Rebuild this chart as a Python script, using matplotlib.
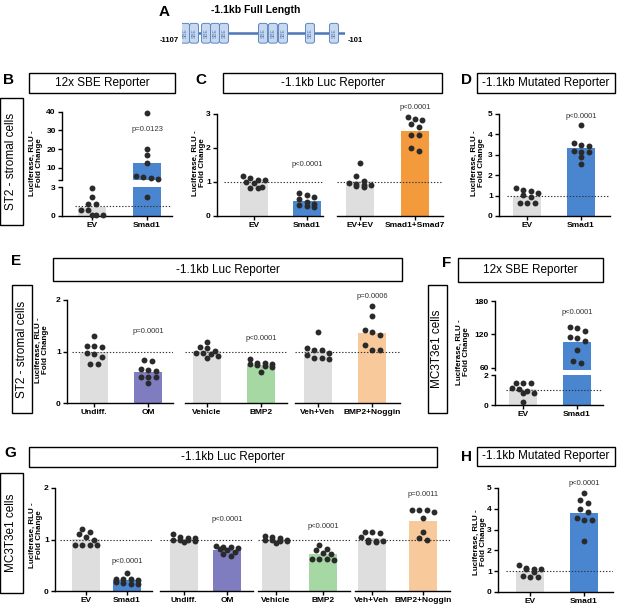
import numpy as np
import matplotlib
matplotlib.use('Agg')
import matplotlib.pyplot as plt
from matplotlib.patches import Rectangle, FancyBboxPatch

plt.rcParams['font.family'] = ['Liberation Sans', 'DejaVu Sans']

# ---------------- data ----------------
promoter_start, promoter_end = -1107, -101
sbe_sites = [-1088, -1033, -959, -903, -848, -607, -546, -484, -317, -169]

b_ev = [2.9, 2.0, 1.22, 1.22, 0.63, 0.63, 0.1, 0.1, 0.1]
b_smad1 = [39.5, 20, 17, 12.7, 5.6, 4.4, 4.9, 4.2, 2.0]

c_ev = [1.12, 1.06, 1.19, 1.07, 1.0, 0.98, 0.82, 0.83, 0.84]
c_smad1 = [0.42, 0.27, 0.62, 0.67, 0.55, 0.5, 0.3, 0.32, 0.35]
c_evev = [1.55, 1.18, 1.02, 0.95, 0.92, 0.97, 0.88, 0.85, 0.9]
c_smad17 = [2.84, 2.92, 2.82, 2.7, 2.62, 2.37, 2.37, 1.92, 2.0]

d_ev = [1.38, 1.26, 1.13, 1.21, 1.05, 0.93, 0.66, 0.64, 0.66]
d_smad1 = [4.44, 3.48, 3.59, 3.43, 3.18, 3.15, 3.15, 2.87, 2.57]

e_undiff = [1.08, 1.30, 1.10, 1.11, 0.95, 0.97, 0.90, 0.75, 0.75]
e_om = [0.81, 0.83, 0.65, 0.66, 0.63, 0.50, 0.39, 0.50, 0.50]
e_vehicle = [1.19, 1.08, 1.06, 0.92, 0.97, 0.97, 0.95, 1.01, 0.87]
e_bmp2 = [0.86, 0.77, 0.77, 0.75, 0.76, 0.72, 0.61, 0.70, 0.73]
e_vehveh = [1.37, 0.97, 1.03, 1.07, 1.03, 0.86, 0.87, 0.87, 0.94]
e_noggin = [1.89, 1.69, 1.32, 1.42, 1.37, 1.13, 1.03, 1.03]

f_ev = [1.5, 1.5, 1.5, 1.12, 0.97, 0.79, 0.83, 1.08, 0.22]
f_smad1 = [131, 134, 127, 115, 107.5, 113.5, 91.5, 69.5, 72.5]

g_ev = [1.15, 1.21, 1.04, 1.10, 1.0, 0.89, 0.89, 0.89, 0.89]
g_smad1 = [0.35, 0.24, 0.22, 0.24, 0.24, 0.14, 0.16, 0.14, 0.18]
g_undiff = [1.1, 1.05, 1.03, 1.0, 0.99, 1.02, 0.98, 0.96, 1.0]
g_om = [0.86, 0.87, 0.86, 0.84, 0.76, 0.68, 0.71, 0.8, 0.82]
g_vehicle = [1.06, 1.02, 0.99, 1.0, 1.05, 0.97, 1.0, 0.94, 0.98]
g_bmp2 = [0.9, 0.81, 0.79, 0.74, 0.63, 0.63, 0.63, 0.6, 0.72]
g_vehveh = [1.15, 1.13, 1.15, 1.04, 1.0, 0.97, 0.98, 0.95, 0.95]
g_noggin = [1.57, 1.54, 1.57, 1.58, 1.41, 1.15, 1.02, 0.99]

h_ev = [1.1, 1.12, 1.13, 1.29, 1.1, 0.73, 0.73, 0.76, 0.95]
h_smad1 = [4.76, 4.4, 4.27, 3.98, 3.87, 3.58, 3.47, 3.44, 2.47]

ylab = 'Luciferase, RLU -\nFold Change'

GREY = '#dedede'
BLUE = '#4a86d0'
ORANGE = '#f39a3c'
PURPLE = '#7f7cc0'
GREEN = '#a5d8a2'
PEACH = '#f8c99a'
DOT = '#2a2a2a'

W, H = 617, 606
fig = plt.figure(figsize=(W / 100, H / 100), dpi=100)


def fx(x):
    return x / W


def fy(y):
    return 1 - y / H


def make_axes(x0, x1, ytop, ybot, c0, c1, ylim, left=True, bottom=True):
    ax = fig.add_axes([fx(x0), fy(ybot), (x1 - x0) / W, (ybot - ytop) / H])
    sp = c1 - c0
    ax.set_xlim(-(c0 - x0) / sp, 1 + (x1 - c1) / sp)
    ax.set_ylim(*ylim)
    ax.patch.set_visible(False)
    for s in ['top', 'right']:
        ax.spines[s].set_visible(False)
    ax.spines['left'].set_visible(left)
    ax.spines['bottom'].set_visible(bottom)
    for s in ['left', 'bottom']:
        ax.spines[s].set_linewidth(1.0)
    ax.tick_params(direction='out', length=3, width=1.0, labelsize=6, pad=1.5)
    if not left:
        ax.tick_params(axis='y', left=False, labelleft=False)
    if not bottom:
        ax.tick_params(axis='x', bottom=False, labelbottom=False)
    ax.bw = 28 / sp
    return ax


def bold_ticks(ax):
    for t in ax.get_yticklabels() + ax.get_xticklabels():
        t.set_fontweight('bold')
        t.set_fontsize(6)


def swarm(ax, xc, vals, d_row=5.5, spacing=7.5, max_row=4):
    # group points of similar height into centred rows, prism style
    vals = sorted(vals, reverse=True)
    pix = [ax.transData.transform((0, v))[1] for v in vals]
    ppu = ax.transData.transform((1, 0))[0] - ax.transData.transform((0, 0))[0]
    xs, ys = [], []
    i = 0
    while i < len(vals):
        row = [i]
        j = i + 1
        while j < len(vals) and pix[i] - pix[j] < d_row and len(row) < max_row:
            row.append(j)
            j += 1
        n = len(row)
        for k, idx in enumerate(row):
            xs.append(xc + (k - (n - 1) / 2) * spacing / ppu)
            ys.append(vals[idx])
        i = j
    ax.scatter(xs, ys, s=18, color=DOT, zorder=4, clip_on=False, linewidths=0)


def bars(ax, groups, colors, labels, lo=None, hi=None, ref=True, xmin=0.0):
    for i, (vals, c) in enumerate(zip(groups, colors)):
        ax.bar(i, np.mean(vals), width=ax.bw, color=c, zorder=1)
        sel = [v for v in vals if (lo is None or v > lo) and (hi is None or v <= hi)]
        if sel:
            swarm(ax, i, sel)
    if ref:
        ax.axhline(1, xmin=xmin, xmax=1, color='#333333', lw=0.8,
                   ls=(0, (1.2, 1.6)), zorder=2)
    if labels is not None:
        ax.set_xticks(range(len(groups)))
        ax.set_xticklabels(labels)
    bold_ticks(ax)


def ptext(ax, x, y, s):
    ax.text(x, y, s, ha='center', va='center', fontsize=5.5, color='#333333')


def box(x0, y0, x1, y1, text, rot=0, size=8.5):
    fig.add_artist(Rectangle((fx(x0), fy(y1)), (x1 - x0) / W, (y1 - y0) / H,
                             transform=fig.transFigure, fill=False,
                             edgecolor='black', lw=1.0))
    fig.text(fx((x0 + x1) / 2), fy((y0 + y1) / 2), text, ha='center',
             va='center', rotation=rot, fontsize=size)


def letter(x, y, s):
    fig.text(fx(x), fy(y), s, ha='center', va='center', fontsize=11,
             fontweight='bold')


def ylabel(x, y):
    fig.text(fx(x), fy(y), ylab, ha='center', va='center', rotation=90,
             fontsize=5.8, fontweight='bold', linespacing=1.05,
             multialignment='center')


# ---------------- A: promoter diagram ----------------
letter(164, 12, 'A')
fig.text(fx(256), fy(10), '-1.1kb Full Length', ha='center', va='center',
         fontsize=7.5, fontweight='bold')
axa = fig.add_axes([fx(182), fy(46), (345 - 182) / W, 26 / H])
axa.set_xlim(promoter_start, promoter_end)
axa.set_ylim(0, 1)
axa.axis('off')
axa.plot([promoter_start, promoter_end], [0.5, 0.5], color='#4a76b8', lw=1.8,
         solid_capstyle='butt', zorder=1)
asp = (1 / 26) / ((promoter_end - promoter_start) / 163)
for s in sbe_sites:
    axa.add_patch(FancyBboxPatch((s - 28, 0.11), 56, 0.76,
                                 boxstyle='round,pad=0,rounding_size=14',
                                 mutation_aspect=asp, facecolor='#c8d8ef',
                                 edgecolor='#5b86c2', lw=0.7, zorder=2))
    axa.text(s, 0.49, 'SBE', rotation=90, fontsize=3.6, color='#5a7db5',
             ha='center', va='center', zorder=3)
fig.text(fx(169), fy(41), '-1107', ha='center', va='center', fontsize=5.5,
         fontweight='bold')
fig.text(fx(355), fy(41), '-101', ha='center', va='center', fontsize=5.5,
         fontweight='bold')

# ---------------- B: 12x SBE (broken axis) ----------------
letter(8, 80, 'B')
box(29, 73, 175, 93, '12x SBE Reporter')
box(0, 98, 23, 225, 'ST2 - stromal cells', rot=90)
ylabel(36, 163)
b_lo = make_axes(62, 172, 187.3, 216, 92, 147, (0, 3))
b_lo.set_yticks([0, 3])
bars(b_lo, [b_ev, b_smad1], [GREY, BLUE], ['EV', 'Smad1'], hi=3, xmin=0.12)
b_hi = make_axes(62, 172, 111.7, 180, 92, 147, (3.4, 40), bottom=False)
b_hi.set_yticks([3.4, 10, 20, 30, 40])
b_hi.set_yticklabels(['', '10', '20', '30', '40'])
bars(b_hi, [b_ev, b_smad1], [GREY, BLUE], None, lo=3.4, ref=False)
ptext(b_hi, 1, 30.2, 'p=0.0123')

# ---------------- C: -1.1kb Luc ----------------
letter(201, 80, 'C')
box(223, 73, 442, 93, '-1.1kb Luc Reporter')
ylabel(199, 163)
c1 = make_axes(217, 323, 114, 216, 254, 307, (0, 3))
c1.set_yticks([0, 1, 2, 3])
bars(c1, [c_ev, c_smad1], [GREY, BLUE], ['EV', 'Smad1'], xmin=0.07)
ptext(c1, 1, 1.5, 'p<0.0001')
c2 = make_axes(337, 443, 114, 216, 360, 415, (0, 3), left=False)
bars(c2, [c_evev, c_smad17], [GREY, ORANGE], ['EV+EV', 'Smad1+Smad7'])
ptext(c2, 1, 3.18, 'p<0.0001')

# ---------------- D: mutated ----------------
letter(466, 80, 'D')
box(477, 73, 615, 93, '-1.1kb Mutated Reporter')
ylabel(478, 163)
d1 = make_axes(499, 610, 114, 216, 527, 581, (0, 5))
d1.set_yticks([0, 1, 2, 3, 4, 5])
bars(d1, [d_ev, d_smad1], [GREY, BLUE], ['EV', 'Smad1'], xmin=0.07)
ptext(d1, 1, 4.87, 'p<0.0001')

# ---------------- E: ST2 treatments ----------------
letter(16, 261, 'E')
box(53, 258, 402, 281, '-1.1kb Luc Reporter')
box(12, 285, 32, 413, 'ST2 - stromal cells', rot=90)
ylabel(42, 350)
e1 = make_axes(67, 173, 300, 403, 94, 148, (0, 2))
e1.set_yticks([0, 1, 2])
bars(e1, [e_undiff, e_om], [GREY, PURPLE], ['Undiff.', 'OM'], xmin=0.05)
ptext(e1, 1, 1.38, 'p=0.0001')
e2 = make_axes(185, 287, 300, 403, 207, 261, (0, 2), left=False)
bars(e2, [e_vehicle, e_bmp2], [GREY, GREEN], ['Vehicle', 'BMP2'])
ptext(e2, 1, 1.26, 'p<0.0001')
e3 = make_axes(295, 400, 300, 403, 318, 372, (0, 2), left=False)
bars(e3, [e_vehveh, e_noggin], [GREY, PEACH], ['Veh+Veh', 'BMP2+Noggin'])
ptext(e3, 1, 2.07, 'p=0.0006')

# ---------------- F: MC3T3 12x SBE (broken axis) ----------------
letter(447, 263, 'F')
box(458, 258, 603, 282, '12x SBE Reporter')
box(428, 285, 447, 413, 'MC3T3e1 cells', rot=90)
ylabel(463, 352)
f_lo = make_axes(495, 603, 375.3, 405, 523, 577, (0, 2))
f_lo.set_yticks([0, 2])
bars(f_lo, [f_ev, f_smad1], [GREY, BLUE], ['EV', 'Smad1'], hi=2, xmin=0.1)
f_hi = make_axes(495, 603, 301, 370, 523, 577, (56.4, 180), bottom=False)
f_hi.set_yticks([60, 120, 180])
bars(f_hi, [f_ev, f_smad1], [GREY, BLUE], None, lo=56.4, ref=False)
ptext(f_hi, 1, 159, 'p<0.0001')

# ---------------- G: MC3T3 treatments ----------------
letter(10, 453, 'G')
box(29, 447, 437, 467, '-1.1kb Luc Reporter')
box(0, 473, 23, 593, 'MC3T3e1 cells', rot=90)
ylabel(36, 535)
g1 = make_axes(55, 152, 488, 591, 86, 127, (0, 2))
g1.set_yticks([0, 1, 2])
bars(g1, [g_ev, g_smad1], [GREY, BLUE], ['EV', 'Smad1'], xmin=0.05)
ptext(g1, 1, 0.58, 'p<0.0001')
g2 = make_axes(160, 253, 488, 591, 184, 227, (0, 2), left=False)
bars(g2, [g_undiff, g_om], [GREY, PURPLE], ['Undiff.', 'OM'])
ptext(g2, 1, 1.39, 'p<0.0001')
g3 = make_axes(258, 350, 488, 591, 276, 323, (0, 2), left=False)
bars(g3, [g_vehicle, g_bmp2], [GREY, GREEN], ['Vehicle', 'BMP2'])
ptext(g3, 1, 1.26, 'p<0.0001')
g4 = make_axes(355, 450, 488, 591, 372, 423, (0, 2), left=False)
bars(g4, [g_vehveh, g_noggin], [GREY, PEACH], ['Veh+Veh', 'BMP2+Noggin'])
ptext(g4, 1, 1.87, 'p=0.0011')

# ---------------- H: MC3T3 mutated ----------------
letter(466, 457, 'H')
box(477, 447, 615, 466, '-1.1kb Mutated Reporter')
ylabel(480, 542)
h1 = make_axes(498, 613, 488, 592, 530, 584, (0, 5))
h1.set_yticks([0, 1, 2, 3, 4, 5])
bars(h1, [h_ev, h_smad1], [GREY, BLUE], ['EV', 'Smad1'], xmin=0.07)
ptext(h1, 1, 5.24, 'p<0.0001')

fig.savefig('out.png', dpi=100)
